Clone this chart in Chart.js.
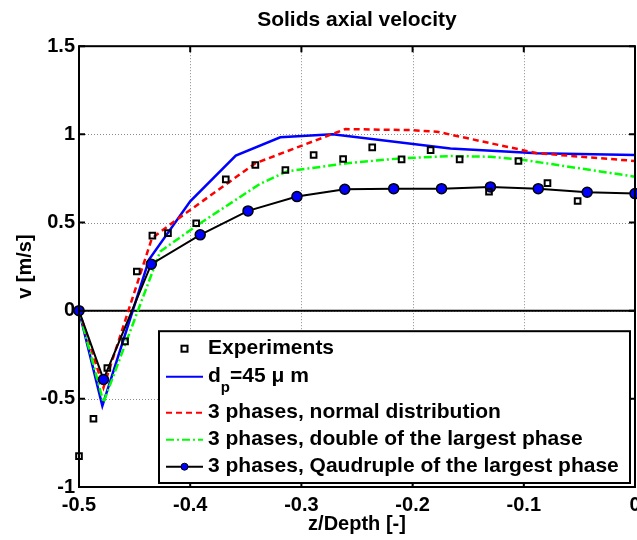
<!DOCTYPE html>
<html>
<head>
<meta charset="utf-8">
<title>Solids axial velocity</title>
<script src="https://cdn.jsdelivr.net/npm/chart.js@4.4.0/dist/chart.umd.min.js"></script>
<style>
html, body { margin: 0; padding: 0; background: #fff; }
</style>
</head>
<body>
<canvas id="graficoVelocidade" width="637" height="540"></canvas>
<script>
// eixos
var marcasX = [-0.5, -0.4, -0.3, -0.2, -0.1, 0];
var marcasY = [-1, -0.5, 0, 0.5, 1, 1.5];

// experimentos
var experimentosX = [-0.5, -0.487, -0.4745, -0.4586, -0.448, -0.434, -0.420, -0.3946, -0.368, -0.3414, -0.3144,
                     -0.289, -0.2625, -0.2363, -0.2099, -0.1838, -0.1577, -0.1313, -0.1048, -0.0787, -0.0516];
var experimentosY = [-0.825, -0.613, -0.325, -0.174, 0.222, 0.426, 0.44, 0.496, 0.745, 0.826, 0.798,
                     0.883, 0.86, 0.926, 0.858, 0.911, 0.858, 0.675, 0.849, 0.723, 0.622];

// d_p = 45 um
var unicaX = [-0.5, -0.479, -0.437, -0.4, -0.359, -0.319, -0.272, -0.166, -0.088, 0];
var unicaY = [0, -0.54, 0.29, 0.62, 0.88, 0.983, 1.0, 0.92, 0.893, 0.883];

// 3 fases, distribuicao normal
var normalX = [-0.5, -0.478, -0.4345, -0.4135, -0.3414, -0.2604, -0.2018, -0.178, -0.088, 0];
var normalY = [0, -0.436, 0.41, 0.51, 0.836, 1.03, 1.024, 1.015, 0.893, 0.849];

// 3 fases, dobro da maior fase
var dobroX = [-0.5, -0.478, -0.427, -0.391, -0.337, -0.313, -0.259, -0.211, -0.166, -0.13, -0.1, 0];
var dobroY = [0, -0.52, 0.336, 0.496, 0.72, 0.79, 0.836, 0.864, 0.877, 0.873, 0.855, 0.76];

// 3 fases, quadruplo da maior fase
var quadruploX = [-0.5, -0.478, -0.435, -0.391, -0.348, -0.304, -0.261, -0.217, -0.174, -0.130, -0.087, -0.043, 0];
var quadruploY = [0, -0.39, 0.264, 0.43, 0.566, 0.647, 0.689, 0.692, 0.692, 0.702, 0.692, 0.672, 0.664];

var FONTE = "'Liberation Sans', Arial, sans-serif";

function juntar(xs, ys){
    var pontos = [];
    xs.forEach(function(x, i){
        pontos.push({x: x, y: ys[i]});
    });
    return pontos;
}

var Grafico = Grafico || {};

Grafico.Moldura = {
    id: 'moldura',
    beforeDatasetsDraw: function(chart){
        var ctx = chart.ctx, a = chart.chartArea;
        var sx = chart.scales.x, sy = chart.scales.y;
        ctx.save();
        ctx.strokeStyle = '#8c8c8c';
        ctx.lineWidth = 1;
        ctx.setLineDash([1, 2]);
        marcasX.forEach(function(v){
            var px = Math.round(sx.getPixelForValue(v)) + 0.5;
            ctx.beginPath(); ctx.moveTo(px, a.top); ctx.lineTo(px, a.bottom); ctx.stroke();
        });
        marcasY.forEach(function(v){
            var py = Math.round(sy.getPixelForValue(v)) + 0.5;
            ctx.beginPath(); ctx.moveTo(a.left, py); ctx.lineTo(a.right, py); ctx.stroke();
        });
        ctx.restore();
    },
    afterDatasetsDraw: function(chart){
        var ctx = chart.ctx, a = chart.chartArea;
        var sx = chart.scales.x, sy = chart.scales.y;
        var tam = 6;
        ctx.save();
        ctx.strokeStyle = '#000';
        ctx.lineWidth = 2;
        ctx.strokeRect(a.left, a.top, a.right - a.left, a.bottom - a.top);
        marcasX.forEach(function(v){
            var px = sx.getPixelForValue(v);
            ctx.beginPath();
            ctx.moveTo(px, a.bottom); ctx.lineTo(px, a.bottom - tam);
            ctx.moveTo(px, a.top); ctx.lineTo(px, a.top + tam);
            ctx.stroke();
        });
        marcasY.forEach(function(v){
            var py = sy.getPixelForValue(v);
            ctx.beginPath();
            ctx.moveTo(a.left, py); ctx.lineTo(a.left + tam, py);
            ctx.moveTo(a.right, py); ctx.lineTo(a.right - tam, py);
            ctx.stroke();
        });
        ctx.restore();
        desenharLegenda(chart);
    }
};

function desenharLegenda(chart){
    var ctx = chart.ctx, a = chart.chartArea;
    var caixa = {left: a.left + 80, top: a.top + 285, right: a.right - 5, bottom: a.bottom - 4};
    var linhas = [17.5, 45.5, 81.5, 108.5, 135.5];
    var x0 = caixa.left + 7, x1 = caixa.left + 44, xt = caixa.left + 49;
    var meio = (x0 + x1) / 2;
    var ds = chart.data.datasets;

    ctx.save();
    ctx.fillStyle = '#fff';
    ctx.fillRect(caixa.left, caixa.top, caixa.right - caixa.left, caixa.bottom - caixa.top);
    ctx.strokeStyle = '#000';
    ctx.lineWidth = 2;
    ctx.strokeRect(caixa.left, caixa.top, caixa.right - caixa.left, caixa.bottom - caixa.top);

    ctx.textBaseline = 'middle';
    ctx.textAlign = 'left';
    ctx.fillStyle = '#000';
    ctx.font = 'bold 21px ' + FONTE;

    for (var i = 0; i < 5; i++){
        var d = ds[i];
        var y = caixa.top + linhas[i];
        if (i === 0){
            ctx.setLineDash([]);
            ctx.lineWidth = 2;
            ctx.strokeStyle = '#000';
            ctx.strokeRect(meio - 3, y - 3, 6, 6);
        } else {
            ctx.beginPath();
            ctx.setLineDash(d.borderDash || []);
            ctx.lineWidth = 2;
            ctx.strokeStyle = d.borderColor;
            ctx.moveTo(x0, y); ctx.lineTo(x1, y);
            ctx.stroke();
            if (i === 4){
                ctx.setLineDash([]);
                ctx.beginPath();
                ctx.arc(meio, y, 3.5, 0, Math.PI * 2);
                ctx.fillStyle = d.pointBackgroundColor;
                ctx.fill();
                ctx.lineWidth = 1;
                ctx.strokeStyle = '#000';
                ctx.stroke();
            }
        }
        ctx.fillStyle = '#000';
        if (i === 1){
            ctx.font = 'bold 21px ' + FONTE;
            ctx.fillText('d', xt, y);
            var wd = ctx.measureText('d').width;
            ctx.font = 'bold 15px ' + FONTE;
            ctx.fillText('p', xt + wd, y + 11);
            var wp = ctx.measureText('p').width;
            ctx.font = 'bold 21px ' + FONTE;
            ctx.fillText('=45 \u03bc m', xt + wd + wp, y);
        } else {
            ctx.fillText(d.label, xt, y);
        }
    }
    ctx.restore();
}

Grafico.Velocidade = (function(){

    function Velocidade(){
        this.ctx = document.getElementById('graficoVelocidade').getContext('2d');
    }

    Velocidade.prototype.iniciar = function(){
        new Chart(this.ctx, {
            type: 'scatter',
            data: {
                datasets: [{
                    label: 'Experiments',
                    data: juntar(experimentosX, experimentosY),
                    showLine: false,
                    pointStyle: 'rect',
                    pointRadius: 4,
                    pointBorderWidth: 2,
                    pointBorderColor: '#000',
                    pointBackgroundColor: 'rgba(0,0,0,0)',
                    clip: 6,
                    order: 1
                }, {
                    label: 'd_p=45 \u03bc m',
                    data: juntar(unicaX, unicaY),
                    showLine: true,
                    borderColor: '#0000ff',
                    borderWidth: 2.5,
                    pointRadius: 0,
                    order: 5
                }, {
                    label: '3 phases, normal distribution',
                    data: juntar(normalX, normalY),
                    showLine: true,
                    borderColor: '#ff0000',
                    borderWidth: 2.5,
                    borderDash: [6, 4],
                    pointRadius: 0,
                    order: 4
                }, {
                    label: '3 phases, double of the largest phase',
                    data: juntar(dobroX, dobroY),
                    showLine: true,
                    borderColor: '#00ff00',
                    borderWidth: 2.5,
                    borderDash: [8, 3, 2, 3],
                    pointRadius: 0,
                    order: 3
                }, {
                    label: '3 phases, Qaudruple of the largest phase',
                    data: juntar(quadruploX, quadruploY),
                    showLine: true,
                    borderColor: '#000',
                    borderWidth: 2,
                    pointRadius: 5,
                    pointBorderWidth: 1.5,
                    pointBorderColor: '#000',
                    pointBackgroundColor: '#0000ff',
                    clip: 7,
                    order: 2
                }, {
                    label: 'zero',
                    data: juntar([marcasX[0], marcasX[marcasX.length - 1]], [0, 0]),
                    showLine: true,
                    borderColor: '#000',
                    borderWidth: 2,
                    pointRadius: 0,
                    order: 6
                }]
            },
            options: {
                responsive: false,
                animation: false,
                events: [],
                layout: { autoPadding: false, padding: { left: 0, right: 2, top: 0, bottom: 0 } },
                plugins: {
                    legend: { display: false },
                    tooltip: { enabled: false },
                    title: {
                        display: true,
                        fullSize: false,
                        text: 'Solids axial velocity',
                        color: '#000',
                        font: { family: FONTE, size: 21, weight: 'bold' },
                        padding: { top: 8, bottom: 13 }
                    }
                },
                scales: {
                    x: {
                        type: 'linear',
                        min: marcasX[0],
                        max: marcasX[marcasX.length - 1],
                        afterBuildTicks: function(s){
                            s.ticks = marcasX.map(function(v){ return {value: v}; });
                        },
                        afterFit: function(s){
                            s.height = 53;
                            s.paddingLeft = 0;
                            s.paddingRight = 0;
                        },
                        grid: { display: false, drawTicks: false },
                        border: { display: false },
                        ticks: {
                            color: '#000',
                            padding: 6,
                            maxRotation: 0,
                            font: { family: FONTE, size: 20, weight: 'bold' },
                            callback: function(v){ return String(v); }
                        },
                        title: {
                            display: true,
                            text: 'z/Depth [-]',
                            color: '#000',
                            font: { family: FONTE, size: 20, weight: 'bold' },
                            padding: { top: 0, bottom: 4 }
                        }
                    },
                    y: {
                        type: 'linear',
                        min: marcasY[0],
                        max: marcasY[marcasY.length - 1],
                        afterBuildTicks: function(s){
                            s.ticks = marcasY.map(function(v){ return {value: v}; });
                        },
                        afterFit: function(s){
                            s.width = 79;
                            s.paddingTop = 0;
                            s.paddingBottom = 0;
                        },
                        grid: { display: false, drawTicks: false },
                        border: { display: false },
                        ticks: {
                            color: '#000',
                            padding: 4,
                            font: { family: FONTE, size: 20, weight: 'bold' },
                            callback: function(v){ return String(v); }
                        },
                        title: {
                            display: true,
                            text: 'v [m/s]',
                            color: '#000',
                            font: { family: FONTE, size: 20, weight: 'bold' },
                            padding: { top: 13, bottom: 0 }
                        }
                    }
                }
            },
            plugins: [Grafico.Moldura]
        });
    };

    return Velocidade;
}());

var graficoVelocidade = new Grafico.Velocidade();
graficoVelocidade.iniciar();
</script>
</body>
</html>
